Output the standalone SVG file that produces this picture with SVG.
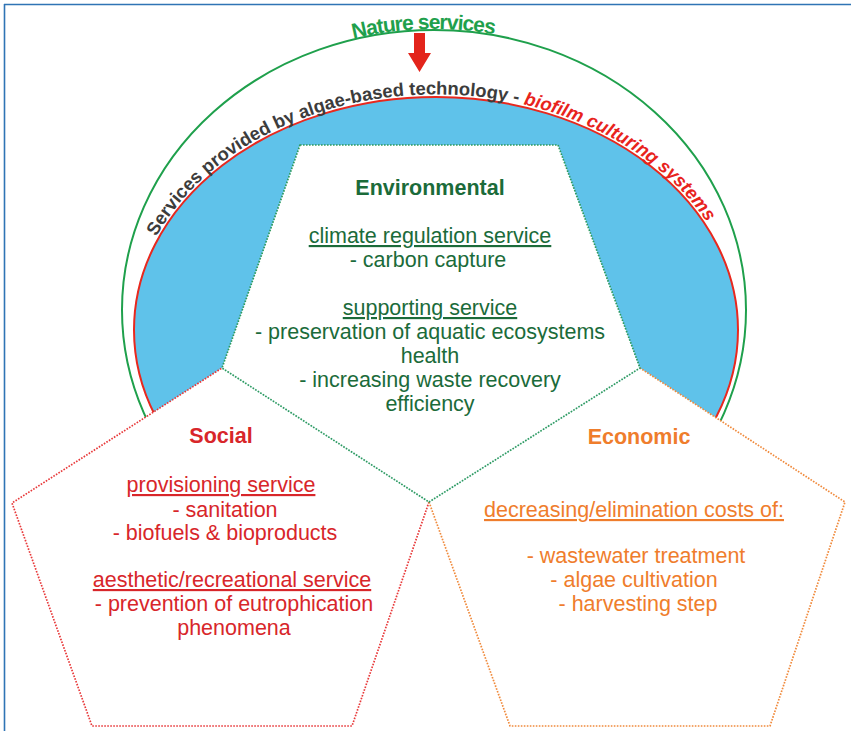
<svg xmlns="http://www.w3.org/2000/svg" width="851" height="731" viewBox="0 0 851 731">
<style>
text{font-family:"Liberation Sans",Arial,sans-serif;font-size:21.5px}
.h{font-weight:bold}
.u{text-decoration:underline}
.env{fill:#1b6b3a}
.soc{fill:#d8262a}
.eco{fill:#ef7d2c}
.dot{fill:none;stroke-width:1.7;stroke-dasharray:1.6 1.4}
.arc{font-weight:bold;font-size:18.4px}
.gray{fill:#3c3c3c}
.redi{fill:#e8231c;font-style:italic}
</style>
<defs>
<clipPath id="upper"><polygon points="0,0 851,0 851,506 640,368 429,502 222,368 0,511"/></clipPath>
<path id="greenArc" d="M121,310 A313,281 0 0 1 747,310"/>
<path id="redArc" d="M131.5,330 A304.5,235.5 0 0 1 740.5,330"/>
</defs>
<rect width="851" height="731" fill="#ffffff"/>
<g id="frame" fill="none" stroke="#2f74b5" stroke-width="1.6">
<line x1="4" y1="4.5" x2="851" y2="4.5"/>
<line x1="4.5" y1="4" x2="4.5" y2="731"/>
</g>
<g id="arcs" clip-path="url(#upper)">
<ellipse cx="436" cy="330" rx="302" ry="233" fill="#5fc2ea" stroke="#e8281e" stroke-width="2"/>
<ellipse cx="434" cy="310" rx="312" ry="280" fill="none" stroke="#1fa04c" stroke-width="2"/>
</g>
<g id="connectors">
<polygon id="arrow" points="414,33 425,33 425,53 431,53 419.5,72 408,53 414,53" fill="#e3241b"/>
</g>
<g id="social">
<polyline class="dot" stroke="#e8393a" points="429,502 352,726 92,726 12,503 222,368"/>
<text class="h soc" x="221" y="443" text-anchor="middle">Social</text>
<text class="u soc" x="221" y="492" text-anchor="middle">provisioning service</text>
<text class="soc" x="225" y="517" text-anchor="middle">- sanitation</text>
<text class="soc" x="225" y="540" text-anchor="middle">- biofuels &amp; bioproducts</text>
<text class="u soc" x="232" y="587" text-anchor="middle">aesthetic/recreational service</text>
<text class="soc" x="234" y="611" text-anchor="middle">- prevention of eutrophication</text>
<text class="soc" x="234" y="635" text-anchor="middle">phenomena</text>
</g>
<g id="economic">
<polyline class="dot" stroke="#f08a3c" points="429,502 510,726 770,726 845,502 640,368"/>
<text class="h eco" x="639" y="444" text-anchor="middle">Economic</text>
<text class="u eco" x="634" y="517" text-anchor="middle">decreasing/elimination costs of:</text>
<text class="eco" x="636" y="563" text-anchor="middle">- wastewater treatment</text>
<text class="eco" x="634" y="587" text-anchor="middle">- algae cultivation</text>
<text class="eco" x="638" y="611" text-anchor="middle">- harvesting step</text>
</g>
<g id="environmental">
<polygon class="dot" style="fill:#ffffff" stroke="#2e9a5e" points="300,145 558,145 640,368 429,502 222,368"/>
<text class="h env" x="430" y="195" text-anchor="middle">Environmental</text>
<text class="u env" x="430" y="243" text-anchor="middle">climate regulation service</text>
<text class="env" x="428" y="267" text-anchor="middle">- carbon capture</text>
<text class="u env" x="430" y="315" text-anchor="middle">supporting service</text>
<text class="env" x="430" y="339" text-anchor="middle">- preservation of aquatic ecosystems</text>
<text class="env" x="430" y="363" text-anchor="middle">health</text>
<text class="env" x="430" y="387" text-anchor="middle">- increasing waste recovery</text>
<text class="env" x="430" y="411" text-anchor="middle">efficiency</text>
</g>
<g id="nature">
<text class="h" style="font-size:21px;letter-spacing:-1px" fill="#1fa04c"><textPath href="#greenArc" startOffset="456" text-anchor="middle">Nature services</textPath></text>
</g>
<g id="technology">
<text class="arc gray"><textPath href="#redArc" startOffset="97.5">Services provided by</textPath></text>
<text class="arc gray"><textPath href="#redArc" startOffset="287.7">algae-based technology -</textPath></text>
<text class="arc redi"><textPath href="#redArc" startOffset="513.7">biofilm culturing</textPath></text>
<text class="arc redi"><textPath href="#redArc" startOffset="663">systems</textPath></text>
</g>
</svg>
